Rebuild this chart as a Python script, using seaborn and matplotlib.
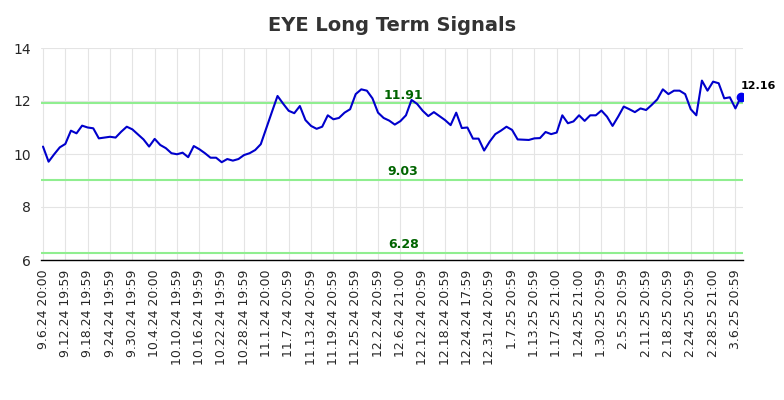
import matplotlib
matplotlib.use("Agg")
import matplotlib.pyplot as plt
import seaborn as sns
import numpy as np
import pandas as pd

# closing values, one per trading session (9.6.24 .. 3.7.25)
prices = [
    10.28, 9.71, 9.99, 10.25, 10.38, 10.88, 10.78, 11.07, 11.00, 10.97,
    10.59, 10.62, 10.65, 10.62, 10.84, 11.03, 10.93, 10.74, 10.55, 10.28,
    10.57, 10.34, 10.22, 10.03, 9.99, 10.05, 9.88, 10.30, 10.18, 10.03,
    9.86, 9.86, 9.69, 9.81, 9.75, 9.81, 9.96, 10.03, 10.15, 10.37,
    10.98, 11.59, 12.19, 11.90, 11.63, 11.54, 11.81, 11.28, 11.06, 10.95,
    11.03, 11.46, 11.31, 11.36, 11.56, 11.69, 12.26, 12.44, 12.39, 12.10,
    11.56, 11.36, 11.26, 11.11, 11.24, 11.46, 12.04, 11.89, 11.63, 11.43,
    11.58, 11.43, 11.28, 11.09, 11.56, 10.98, 11.00, 10.58, 10.58, 10.13,
    10.47, 10.75, 10.88, 11.03, 10.91, 10.55, 10.54, 10.53, 10.59, 10.60,
    10.83, 10.75, 10.81, 11.46, 11.16, 11.23, 11.46, 11.25, 11.46, 11.46,
    11.64, 11.41, 11.06, 11.41, 11.79, 11.69, 11.58, 11.72, 11.66, 11.85,
    12.06, 12.44, 12.26, 12.39, 12.39, 12.26, 11.69, 11.46, 12.77, 12.39,
    12.73, 12.67, 12.10, 12.14, 11.72, 12.16,
]

# one label every 4 sessions
tick_labels = [
    "9.6.24 20:00", "9.12.24 19:59", "9.18.24 19:59", "9.24.24 19:59",
    "9.30.24 19:59", "10.4.24 20:00", "10.10.24 19:59", "10.16.24 19:59",
    "10.22.24 19:59", "10.28.24 19:59", "11.1.24 20:00", "11.7.24 20:59",
    "11.13.24 20:59", "11.19.24 20:59", "11.25.24 20:59", "12.2.24 20:59",
    "12.6.24 21:00", "12.12.24 20:59", "12.18.24 20:59", "12.24.24 17:59",
    "12.31.24 20:59", "1.7.25 20:59", "1.13.25 20:59", "1.17.25 21:00",
    "1.24.25 21:00", "1.30.25 20:59", "2.5.25 20:59", "2.11.25 20:59",
    "2.18.25 20:59", "2.24.25 20:59", "2.28.25 21:00", "3.6.25 20:59",
]

levels = [11.91, 9.03, 6.28]

df = pd.DataFrame({"idx": np.arange(len(prices)), "price": prices})

sns.set_style("whitegrid")
fig, ax = plt.subplots(figsize=(7.84, 4.0), dpi=100)
fig.subplots_adjust(left=0.052, right=0.948, top=0.88, bottom=0.35)

for lv in levels:
    ax.axhline(lv, color="#90ee90", lw=1.5, zorder=1)

sns.lineplot(data=df, x="idx", y="price", color="#0000cc", lw=1.5, ax=ax, zorder=3)

mid = len(prices) * 0.512
for lv in levels:
    ax.text(mid, lv + 0.07, f"{lv:.2f}", color="#006400", fontsize=9,
            fontweight="bold", ha="center", va="bottom")

last_i = len(prices) - 1
ax.scatter([last_i], [prices[-1]], color="#0000ee", s=36, zorder=4)
ax.annotate(f"{prices[-1]:.2f}", (last_i, prices[-1]), xytext=(0, 4),
            textcoords="offset points", fontsize=8, fontweight="bold",
            color="black", ha="left", va="bottom")

ax.set_xlim(-0.4, last_i + 0.4)
ax.set_ylim(6, 14)
ax.set_yticks([6, 8, 10, 12, 14])
ax.set_xticks(range(0, len(prices), 4))
ax.set_xticklabels(tick_labels, rotation=90, fontsize=9)
ax.tick_params(axis="y", labelsize=10)
ax.set_xlabel("")
ax.set_ylabel("")
ax.grid(True, color="#e4e4e4", lw=0.8)

for s in ["top", "right", "left"]:
    ax.spines[s].set_visible(False)
ax.spines["bottom"].set_color("black")
ax.spines["bottom"].set_linewidth(1)

ax.set_title("EYE Long Term Signals", fontsize=14, fontweight="bold", color="#333333", pad=12)

fig.savefig("out.png", dpi=100)
